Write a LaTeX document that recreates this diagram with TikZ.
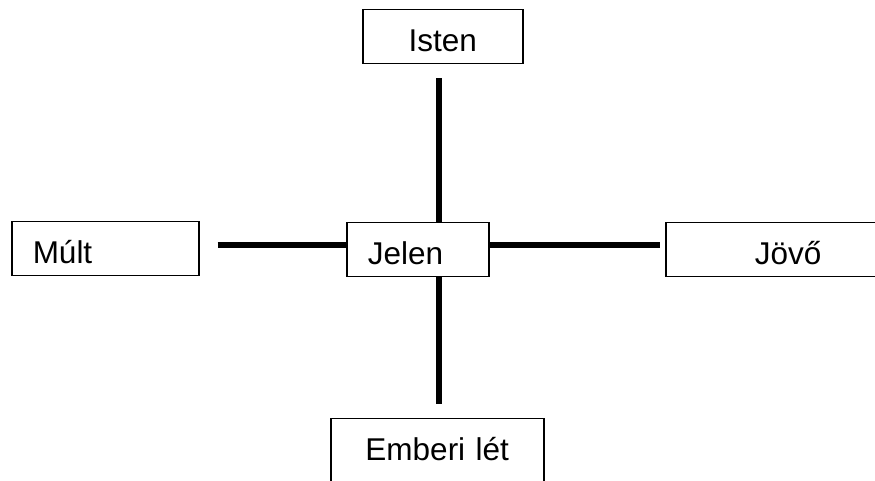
\documentclass[tikz,border=0pt]{standalone}
\usepackage{fontspec}
\setmainfont{Liberation Sans}
\usepackage{tikz}
\tikzset{
  box/.style={draw, line width=0.75pt, anchor=north west, inner ysep=0pt,
    text height=21pt, text depth=6pt, font=\fontsize{15.75}{18}\selectfont},
  leftbox/.style={box, inner xsep=10.5pt, align=left},
  midbox/.style={box, inner xsep=0pt, align=center},
  link/.style={line width=3pt},
}

\begin{document}
\begin{tikzpicture}[x=0.5pt,y=-0.5pt]
        \useasboundingbox (0,0) rectangle (875,481);
        \node[midbox,text width=80pt] (Isten) at (362,9) {Isten};
        \node[leftbox,text width=72.5pt] (Mult) at (11,221) {Múlt};
        \node[leftbox,text width=50pt] (Jelen) at (346,222) {Jelen};
        \node[midbox,text width=122.5pt] (Jovo) at (665,222) {Jövő};
        \node[midbox,text width=106.5pt,text depth=20pt] (Ember) at (330,418) {Emberi lét};
        \coordinate (c) at (439,245);

        \draw[link,shorten <=7pt] (Isten.south -| c) -- (Jelen.north -| c);
        \draw[link,shorten >=7pt] (Jelen.south -| c) -- (Ember.north -| c);
        \draw[link,shorten <=9pt] (Mult.east |- c) -- (Jelen.west |- c);
        \draw[link,shorten >=2.5pt] (Jelen.east |- c) -- (Jovo.west |- c);
    \end{tikzpicture}
\end{document}
